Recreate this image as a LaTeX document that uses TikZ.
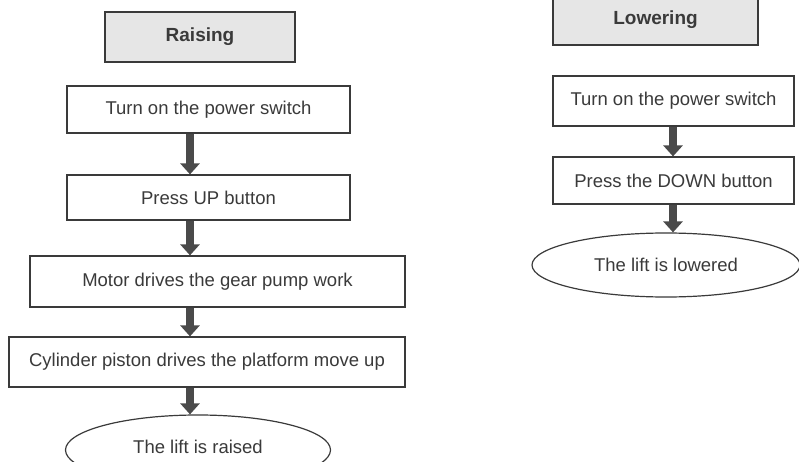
\documentclass[tikz,border=0pt]{standalone}
\usepackage{fontspec}
\setmainfont{Liberation Sans}
\usetikzlibrary{arrows.meta,shapes.geometric}
\definecolor{inkc}{HTML}{3A3A3A}
\definecolor{arrc}{HTML}{4A4A4A}
\definecolor{headfill}{HTML}{E6E6E6}
\tikzset{
  stepbox/.style={draw=inkc, line width=1.2pt, rectangle, inner sep=0pt, text=inkc,
    font=\fontsize{18.5}{20}\selectfont},
  headbox/.style={stepbox, fill=headfill, font=\fontsize{19}{20}\selectfont\bfseries},
  endoval/.style={draw=inkc, line width=1.2pt, ellipse, inner sep=0pt, text=inkc,
    font=\fontsize{18.5}{20}\selectfont},
  bigarrow/.style={draw=arrc, line width=8pt, -{Triangle[width=19pt,length=11pt]}, shorten <=0.6pt},
}
\begin{document}
\begin{tikzpicture}[x=1pt,y=-1pt]
\useasboundingbox (0,0) rectangle (799,462);
\fill[white] (0,0) rectangle (799,462);
\clip (0,0) rectangle (799,462);
% left column
\node[headbox, minimum width=190pt, minimum height=50pt] (raise) at (200,37) {Raising};
\node[stepbox, minimum width=283pt, minimum height=47pt] (t1) at (208.5,109.5) {Turn on the power switch};
\node[stepbox, minimum width=283pt, minimum height=45pt] (t2) at (208.5,197.5) {Press UP button};
\node[stepbox, minimum width=375pt, minimum height=51pt] (t3) at (217.5,281.5) {Motor drives the gear pump work};
\node[stepbox, minimum width=396pt, minimum height=50pt] (t4) at (207,362) {Cylinder piston drives the platform move up};
\node[endoval, minimum width=265pt, minimum height=70pt] (e1) at (198,450) {};
\node[text=inkc, font=\fontsize{18.5}{20}\selectfont] (e1t) at (198,447) {The lift is raised};
\coordinate (ax) at (190,0);
\draw[bigarrow] (t1.south -| ax) -- (t2.north -| ax);
\draw[bigarrow] (t2.south -| ax) -- (t3.north -| ax);
\draw[bigarrow] (t3.south -| ax) -- (t4.north -| ax);
\draw[bigarrow] (t4.south -| ax) -- (e1.north -| ax);
% right column
\node[headbox, minimum width=205pt, minimum height=50pt] (lower) at (655.5,20) {Lowering};
\node[stepbox, minimum width=241pt, minimum height=50pt] (r1) at (673.5,101) {Turn on the power switch};
\node[stepbox, minimum width=241pt, minimum height=47pt] (r2) at (673.5,180.5) {Press the DOWN button};
\node[endoval, minimum width=268pt, minimum height=64pt] (e2) at (666,265) {The lift is lowered};
\coordinate (bx) at (673,0);
\draw[bigarrow] (r1.south -| bx) -- (r2.north -| bx);
\draw[bigarrow] (r2.south -| bx) -- (e2.north -| bx);
\end{tikzpicture}
\end{document}
